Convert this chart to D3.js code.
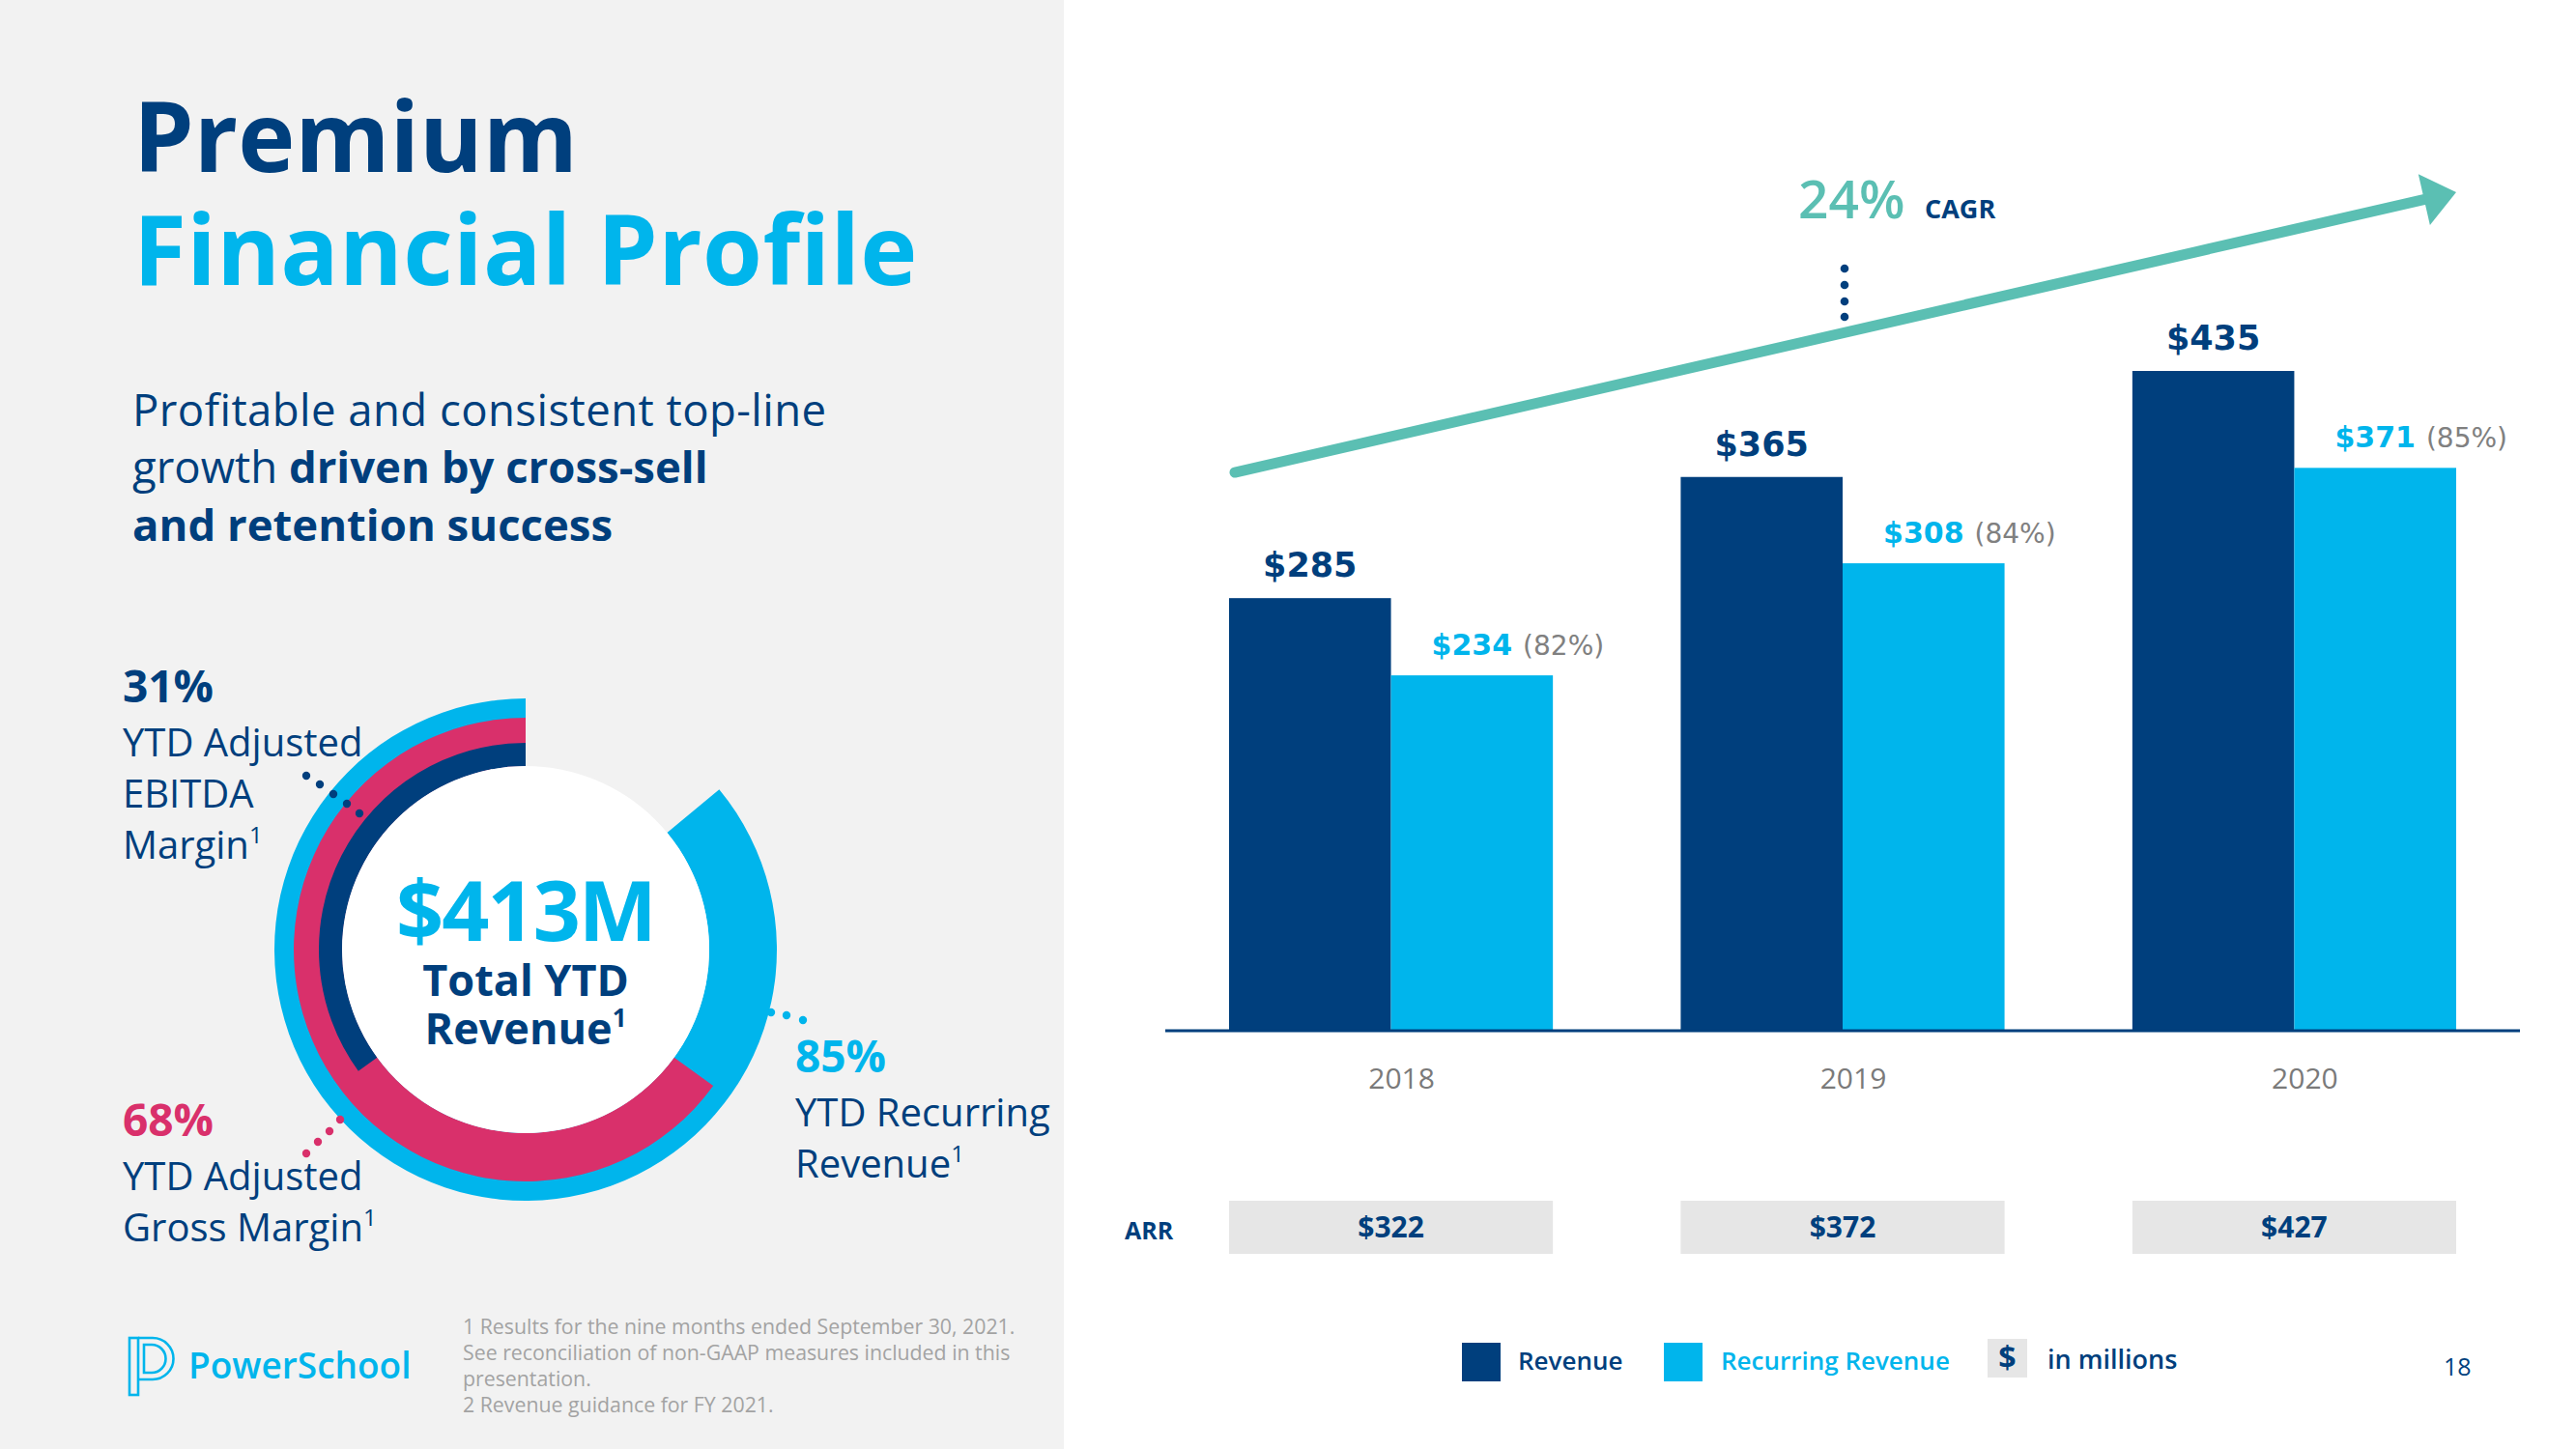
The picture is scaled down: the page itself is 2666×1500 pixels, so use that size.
<!DOCTYPE html>
<html>
<head>
<meta charset="utf-8">
<script src="https://cdn.jsdelivr.net/npm/d3@7"></script>
<style>
  html, body { margin: 0; padding: 0; background: #ffffff; }
  svg { display: block; }
</style>
</head>
<body>
<svg id="chart" width="2666" height="1500" font-family="Open Sans, Noto Sans, sans-serif"></svg>
<script>
// ---------------- DATA ----------------
const categories = ["2018", "2019", "2020"];
const seriesNames = ["Revenue", "Recurring Revenue"];
const revenue = [285, 365, 435];
const recurringRevenue = [234, 308, 371];
const recurringShare = ["(82%)", "(84%)", "(85%)"];
const arrValues = ["$322", "$372", "$427"];
const arrLabel = "ARR";
const cagrValue = "24%";
const cagrLabel = "CAGR";
const trendValues = [368, 553];          // start / end level of the growth arrow (in $M scale)
const donutNames = ["YTD Recurring Revenue", "YTD Adjusted Gross Margin", "YTD Adjusted EBITDA Margin"];
const donutLabels = ["85%", "68%", "31%"];
const donutArcShares = [86, 65, 35];     // arc extents as drawn in the picture (% of full circle)
const centerValue = "$413M";
const titleLines = ["Premium", "Financial Profile"];
const footnotes = [
  "1 Results for the nine months ended September 30, 2021.",
  "See reconciliation of non-GAAP measures included in this",
  "presentation.",
  "2 Revenue guidance for FY 2021."
];

// ---------------- STYLE ----------------
const NAVY = "#003f7d", BLUE = "#00b5ec", PINK = "#d9306b", TEAL = "#5bbfb3";
const GRAY_BG = "#f2f2f2", BOX = "#e6e6e6";
const NUM_FONT = "DejaVu Sans, Open Sans, sans-serif";

const svg = d3.select("#chart");
svg.append("rect").attr("x", 0).attr("y", 0).attr("width", 2666).attr("height", 1500).attr("fill", "#fff");
svg.append("rect").attr("x", 0).attr("y", 0).attr("width", 1101).attr("height", 1500).attr("fill", GRAY_BG);

// ---------------- LEFT PANEL ----------------
const left = svg.append("g");
left.append("text").attr("x", 138).attr("y", 178).attr("font-size", 100).attr("font-weight", 700)
  .attr("fill", NAVY).text(titleLines[0]);
left.append("text").attr("x", 138).attr("y", 295).attr("font-size", 100).attr("font-weight", 700)
  .attr("letter-spacing", 0.4).attr("fill", BLUE).text(titleLines[1]);

const sub = left.append("g").attr("fill", NAVY).attr("font-size", 45.5);
sub.append("text").attr("x", 137).attr("y", 441).attr("letter-spacing", 0.45).text("Profitable and consistent top-line");
const s2 = sub.append("text").attr("x", 137).attr("y", 500);
s2.append("tspan").text("growth ");
s2.append("tspan").attr("font-weight", 700).text("driven by cross-sell");
sub.append("text").attr("x", 137).attr("y", 560).attr("font-weight", 700).text("and retention success");

// Donut
const cx = 544, cy = 983;
const angle = d3.scaleLinear().domain([0, 100]).range([0, 2 * Math.PI]);
const radii = [{inner: 190, outer: 260}, {inner: 190, outer: 240}, {inner: 190, outer: 214}];
const colors = [BLUE, PINK, NAVY];
const arc = d3.arc();
const dg = left.append("g").attr("transform", `translate(${cx},${cy})`);
donutArcShares.forEach((v, i) => {
  dg.append("path")
    .attr("d", arc({innerRadius: radii[i].inner, outerRadius: radii[i].outer,
                    startAngle: -angle(v), endAngle: 0}))
    .attr("fill", colors[i]);
});
dg.append("circle").attr("r", 190).attr("fill", "#fff");
dg.append("text").attr("text-anchor", "middle").attr("y", -9).attr("font-size", 86)
  .attr("font-weight", 700).attr("letter-spacing", -2).attr("fill", BLUE).text(centerValue);
dg.append("text").attr("text-anchor", "middle").attr("y", 48).attr("font-size", 45)
  .attr("font-weight", 700).attr("fill", NAVY).text("Total YTD");
const rv = dg.append("text").attr("text-anchor", "middle").attr("y", 98).attr("font-size", 45)
  .attr("font-weight", 700).attr("fill", NAVY);
rv.append("tspan").text("Revenue");
rv.append("tspan").attr("font-size", 26).attr("dy", -18).text("1");

// donut labels
function labelBlock(x, yTop, pct, color, lines) {
  const g = left.append("g");
  g.append("text").attr("x", x).attr("y", yTop).attr("font-size", 46).attr("font-weight", 700)
    .attr("fill", color).text(pct);
  lines.forEach((ln, j) => {
    const t = g.append("text").attr("x", x).attr("y", yTop + 56 + j * 53).attr("font-size", 40)
      .attr("fill", NAVY);
    if (ln.endsWith("¹")) {
      t.append("tspan").text(ln.slice(0, -1));
      t.append("tspan").attr("font-size", 24).attr("dy", -16).text("1");
    } else t.text(ln);
  });
}
labelBlock(127, 727, donutLabels[2], NAVY, ["YTD Adjusted", "EBITDA", "Margin¹"]);
labelBlock(127, 1176, donutLabels[1], PINK, ["YTD Adjusted", "Gross Margin¹"]);
labelBlock(823, 1110, donutLabels[0], BLUE, ["YTD Recurring", "Revenue¹"]);

// dotted leaders
function dots(pts, color) {
  pts.forEach(p => left.append("circle").attr("cx", cx + p[0]).attr("cy", cy + p[1]).attr("r", 4.2).attr("fill", color));
}
dots([[-227, -180], [-213, -171], [-199, -161], [-185, -151], [-172, -141]], NAVY);
dots([[-227, 211], [-215, 199], [-203, 188], [-192, 176]], PINK);
dots([[254, 65], [270, 68], [287, 73]], BLUE);

// logo
const logo = left.append("g").attr("fill", "none").attr("stroke", BLUE).attr("stroke-width", 2.6);
logo.append("rect").attr("x", 134).attr("y", 1385).attr("width", 9).attr("height", 59);
logo.append("path").attr("d", "M143,1385 H158 A21.5,21.5 0 0 1 158,1428 H143");
logo.append("path").attr("d", "M149,1392 H157 A14.5,14.5 0 0 1 157,1421 H149 Z");
left.append("text").attr("x", 195).attr("y", 1427).attr("font-size", 37).attr("font-weight", 600)
  .attr("fill", BLUE).text("PowerSchool");

// footnotes
footnotes.forEach((f, i) => {
  left.append("text").attr("x", 479).attr("y", 1381 + i * 27).attr("font-size", 21.3)
    .attr("fill", "#a3a3a3").text(f);
});

// ---------------- RIGHT CHART ----------------
const x0 = d3.scaleBand().domain(categories).range([1272, 2542]).paddingInner(0.283).paddingOuter(0);
const x1 = d3.scaleBand().domain(seriesNames).range([0, x0.bandwidth()]);
const y = d3.scaleLinear().domain([0, 435]).range([1066, 384]);

const chart = svg.append("g");
const data = categories.map((c, i) => ({cat: c, vals: [revenue[i], recurringRevenue[i]]}));

const groups = chart.selectAll("g.grp").data(data).join("g").attr("class", "grp")
  .attr("transform", d => `translate(${x0(d.cat)},0)`);
groups.selectAll("rect").data(d => d.vals.map((v, k) => ({k, v}))).join("rect")
  .attr("x", d => x1(seriesNames[d.k]))
  .attr("y", d => y(d.v))
  .attr("width", x1.bandwidth())
  .attr("height", d => y(0) - y(d.v))
  .attr("fill", d => d.k === 0 ? NAVY : BLUE);

// axis
const axisG = chart.append("g").attr("transform", `translate(0,${y(0)})`)
  .call(d3.axisBottom(x0).tickSize(0).tickSizeOuter(0).tickPadding(0));
axisG.select(".domain").remove();
axisG.attr("font-family", null).attr("font-size", null);
axisG.selectAll("text").attr("font-family", "Open Sans, sans-serif").attr("font-size", 30).attr("fill", "#7a7a7a")
  .attr("dx", 11).attr("dy", 0).attr("y", 61);
chart.append("line").attr("x1", x0.range()[0] - 66).attr("x2", x0.range()[1] + 66)
  .attr("y1", y(0) + 1).attr("y2", y(0) + 1).attr("stroke", NAVY).attr("stroke-width", 3);

// value labels
groups.append("text").attr("text-anchor", "middle")
  .attr("x", x1(seriesNames[0]) + x1.bandwidth() / 2)
  .attr("y", d => y(d.vals[0]) - 22)
  .attr("font-family", NUM_FONT).attr("font-weight", 700).attr("font-size", 35)
  .attr("fill", NAVY).text(d => "$" + d.vals[0]);
groups.each(function(d, i) {
  const g = d3.select(this);
  const cxr = x1(seriesNames[1]) + x1.bandwidth() / 2;
  const t = g.append("text").attr("text-anchor", "middle").attr("x", cxr)
    .attr("y", y(d.vals[1]) - 21)
    .attr("font-family", NUM_FONT).attr("font-weight", 700).attr("font-size", 30)
    .attr("fill", BLUE).text("$" + d.vals[1]);
  const w = t.node().getComputedTextLength();
  g.append("text").attr("x", cxr + w / 2 + 11).attr("y", y(d.vals[1]) - 21)
    .attr("font-family", NUM_FONT).attr("font-size", 28).attr("fill", "#808080")
    .text(recurringShare[i]);
});

// growth arrow
const ax0 = x0(categories[0]), ax1 = x0(categories[2]) + x0.bandwidth();
const ay0 = y(trendValues[0]), ay1 = y(trendValues[1]);
const dx = ax1 - ax0, dy = ay1 - ay0, L = Math.hypot(dx, dy);
const ux = dx / L, uy = dy / L, nx = -uy, ny = ux;
const headLen = 34, headHalf = 27;
const bx = ax1 - ux * headLen, by = ay1 - uy * headLen;
chart.append("line").attr("x1", ax0 + 6).attr("y1", ay0).attr("x2", bx + ux * 4).attr("y2", by + uy * 4)
  .attr("stroke", TEAL).attr("stroke-width", 11).attr("stroke-linecap", "round");
chart.append("path")
  .attr("d", `M${ax1},${ay1} L${bx + nx * headHalf},${by + ny * headHalf} L${bx - nx * headHalf},${by - ny * headHalf} Z`)
  .attr("fill", TEAL);

// CAGR annotation
const midX = x0(categories[1]) + x0.bandwidth() / 2 + 2;
[278, 295, 312, 328].forEach(yy => chart.append("circle").attr("cx", midX).attr("cy", yy).attr("r", 4.3).attr("fill", NAVY));
chart.append("text").attr("x", midX - 48).attr("y", 226).attr("font-size", 55).attr("font-weight", 600)
  .attr("fill", TEAL).text(cagrValue);
chart.append("text").attr("x", midX + 83).attr("y", 226).attr("font-size", 27).attr("font-weight", 700)
  .attr("fill", NAVY).text(cagrLabel);

// ARR row
chart.append("text").attr("x", 1164).attr("y", 1283).attr("font-size", 25).attr("font-weight", 700)
  .attr("fill", NAVY).text(arrLabel);
const arrG = chart.selectAll("g.arr").data(categories).join("g").attr("class", "arr")
  .attr("transform", d => `translate(${x0(d)},1243)`);
arrG.append("rect").attr("width", x0.bandwidth()).attr("height", 55).attr("fill", BOX);
arrG.append("text").attr("x", x0.bandwidth() / 2).attr("y", 38).attr("text-anchor", "middle")
  .attr("font-size", 30).attr("font-weight", 700).attr("fill", NAVY).text((d, i) => arrValues[i]);

// legend
const lg = chart.append("g").attr("font-size", 26).attr("font-weight", 600);
lg.append("rect").attr("x", 1513).attr("y", 1390).attr("width", 40).attr("height", 40).attr("fill", NAVY);
lg.append("text").attr("x", 1571).attr("y", 1418).attr("fill", NAVY).text(seriesNames[0]);
lg.append("rect").attr("x", 1722).attr("y", 1390).attr("width", 40).attr("height", 40).attr("fill", BLUE);
lg.append("text").attr("x", 1781).attr("y", 1418).attr("fill", BLUE).text(seriesNames[1]);
lg.append("rect").attr("x", 2057).attr("y", 1386).attr("width", 41).attr("height", 40).attr("fill", BOX);
lg.append("text").attr("x", 2077.5).attr("y", 1417).attr("text-anchor", "middle").attr("font-size", 32)
  .attr("font-weight", 700).attr("fill", NAVY).text("$");
lg.append("text").attr("x", 2119).attr("y", 1417).attr("font-size", 27).attr("fill", NAVY).text("in millions");
chart.append("text").attr("x", 2529).attr("y", 1424).attr("font-size", 25).attr("fill", NAVY).text("18");
</script>
</body>
</html>
